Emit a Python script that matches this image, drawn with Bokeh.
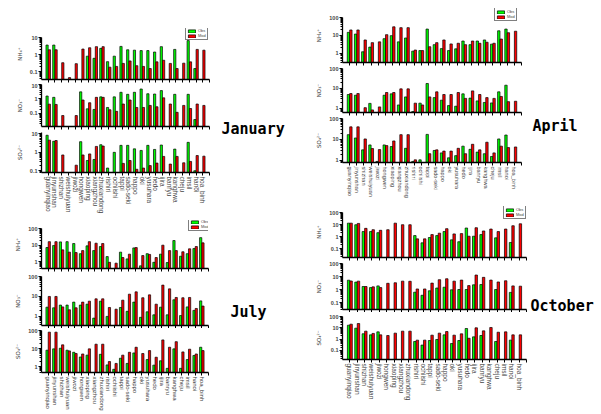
import math
import numpy as np
from bokeh.plotting import figure
from bokeh.models import Range1d, FixedTicker, CustomJSTickFormatter, ColumnDataSource, Legend, LegendItem
from bokeh.layouts import row, column
from bokeh.transform import dodge
from bokeh.embed import file_html
from bokeh.resources import INLINE
from bokeh.core.properties import value

N = None
sites = ["guanyinqiao", "jinyunshan", "shizhan", "weishuiyuan", "jiwozi", "hongwen", "xiaoping",
         "xiangzhou", "zhuxiandong", "rishiri", "ochiishi", "tappi", "sado-seki", "happo", "oki",
         "yusuhara", "hedo", "ijira", "banryu", "kanghwa", "cheju", "imsil", "hanoi", "hoa_binh"]
series_names = ["Obs", "Mod"]
species = ["NH\u2084\u207a", "NO\u2083\u207b", "SO\u2084\u00b2\u207b"]
months = ["January", "April", "July", "October"]

# ---- January ----
jan_nh4_obs = [3.6, 3.6, N, N, N, N, 0.8, 0.6, 2.3, 0.38, 0.8, 3.0, 1.9, 1.8, 1.7, 1.7, 1.4, 2.9, N, 2.0, N, 6.6, 0.15, N]
jan_nh4_mod = [1.9, 1.9, 0.33, 0.044, 0.29, 2.1, 2.5, 2.9, 2.9, 0.18, 0.2, 0.3, 0.42, 0.22, 0.2, 0.15, 0.37, 0.46, 0.3, 0.15, 0.31, 0.37, 2.0, 1.8]
jan_no3_obs = [1.6, 1.3, N, N, N, 3.1, 0.21, 0.19, 1.4, 0.26, 1.4, 2.9, 2.1, 2.9, 4.9, 2.3, 2.2, 3.8, N, 2.1, N, 2.1, 0.038, N]
jan_no3_mod = [0.44, 0.42, 0.072, N, 0.072, 0.85, 0.55, 1.3, 1.3, 0.18, 0.14, 0.45, 0.85, 0.26, 0.26, 0.36, 0.29, 1.2, 0.45, 0.12, 0.36, 0.22, 0.45, 0.36]
jan_so4_obs = [8.5, 4.0, N, N, N, 3.8, 0.36, 0.41, 2.6, 0.14, 1.0, 2.4, 2.4, 1.55, 1.27, 2.4, 1.44, 2.5, N, 1.5, N, 3.5, 0.1, N]
jan_so4_mod = [4.6, 4.4, 0.72, N, 0.2, 0.72, 0.82, 2.1, 2.2, N, N, 0.25, 0.36, 0.12, 0.14, 0.19, 0.26, 0.6, 0.23, 0.6, 0.27, 0.32, 0.67, 0.62]

# ---- April ----
apr_nh4_obs = [14.7, 11.8, 1.2, 2.2, N, 6.5, 9.6, 4.3, 7.1, 1.3, 1.4, 22.5, 3.0, 1.8, 1.4, 1.75, 4.8, 3.0, 4.8, 5.5, 3.2, 18, 22.5, N]
apr_nh4_mod = [20, 20, 5.5, 3.9, 4.3, 10.9, 30, 27, 27, 1.5, 1.4, 2.3, 3.9, 5.5, 3.3, 3.6, 3.0, 4.8, 3.6, 4.1, 3.6, 6.2, 14, 17]
apr_no3_obs = [5.0, 4.6, N, 1.8, N, 4.6, 5.4, 1.5, 3.8, 0.7, 1.85, 17.8, 3.5, 2.6, 1.4, 1.3, 5.4, 3.3, 2.4, 2.0, 1.9, 6.8, 14.6, N]
apr_no3_mod = [5.6, 5.6, 1.1, 0.85, 1.2, 6.3, 6.3, 9.6, 9.6, 1.85, 1.5, 3.8, 6.8, 5.0, 5.0, 6.3, 3.2, 7.6, 5.0, 3.5, 3.2, 4.0, 2.2, 2.3]
apr_so4_obs = [17, 11.8, 3.2, 5.5, 0.9, 5.5, 4.6, N, 3.8, 0.9, 1.07, 17.5, 3.0, 2.3, 1.34, 1.7, 4.8, 3.4, 2.5, 2.1, 1.55, 10.6, 16.3, N]
apr_so4_mod = [40, 40, 10.6, 3.7, 3.3, 5.1, 8.5, 17, 17, 1.07, N, 2.1, 3.2, 2.8, 2.8, 3.8, 2.1, 5.9, 3.2, 7.4, 2.3, 4.8, 4.1, 4.4]

# ---- July ----
jul_nh4_obs = [7.1, 9.3, 15.5, 16, 12.3, 3.0, 8.9, 4.6, 8.1, 2.0, N, 3.7, 1.45, 6.7, 0.55, 3.0, 0.9, 2.8, 0.87, 18.7, 2.1, 3.0, 6.1, 28]
jul_nh4_mod = [16, 16, 5.1, 3.7, 3.5, 4.6, 16, 12.9, 12.3, 0.9, 0.8, 1.75, 2.8, 7.0, 2.3, 2.7, 1.75, 9.8, 4.6, 4.6, 3.9, 5.9, 8.1, 13.5]
jul_no3_obs = [2.9, 2.7, 3.7, 3.7, 5.2, 3.7, 4.1, 0.82, 5.8, 1.0, N, 2.8, 1.8, 5.2, 0.9, 1.7, 1.2, 2.9, 1.2, 6.8, 1.1, 3.0, 2.0, 6.0]
jul_no3_mod = [10, 10, 3.0, 2.15, 2.7, 5.2, 5.8, 7.6, 7.6, 2.8, 2.3, 6.5, 13, 17, 8.6, 12, 4.1, 37, 24, 8.9, 8.6, 8.9, 2.5, 3.3]
jul_so4_obs = [8.1, 9.6, 10.4, 8.1, 6.2, 3.4, 4.3, N, 4.8, 1.24, 0.71, 2.9, 1.5, 5.7, 0.55, 2.45, 1.2, 2.1, 0.8, 9.6, 0.8, 2.45, 4.1, 11.8]
jul_so4_mod = [81, 81, 16, 7.4, 5.3, 5.0, 9.6, 17.4, 17.4, 1.9, 1.5, 4.3, 6.2, 11.8, 5.3, 7.7, 3.3, 30, 11.8, 24, 6.5, 9.2, 5.0, 7.7]

# ---- October ----
oct_nh4_obs = [13, 9.6, 2.6, 2.6, 2.1, N, N, N, N, 1.2, 0.3, 0.83, 1.2, 2.6, 0.53, 0.37, 5.1, 1.06, 1.45, N, 0.78, N, 0.32, N]
oct_nh4_mod = [13, 12.3, 4.8, 3.7, 3.3, 3.7, 13, 9.6, 9.6, 0.64, 0.64, 1.45, 1.9, 4.5, 1.65, 1.75, 1.06, 5.4, 2.9, 4.2, 2.6, 4.2, 7.9, 11.5]
oct_no3_obs = [5.2, 3.7, 1.7, 1.4, 1.9, N, N, N, N, 0.62, 0.36, 0.8, 1.3, 1.5, 0.95, 1.0, 1.0, 2.3, 2.4, N, 1.0, N, 0.6, N]
oct_no3_mod = [4.5, 4.4, 1.7, 1.6, 1.4, 3.0, 3.3, 4.4, 4.3, 1.1, 1.1, 3.1, 5.7, 6.7, 4.4, 5.3, 2.0, 13, 8.6, 5.3, 3.8, 4.7, 1.9, 1.8]
oct_so4_obs = [17, 9.3, 3.0, 2.4, 4.4, N, N, N, N, 0.62, 0.3, 0.76, 0.93, 2.4, 0.41, 0.76, 8.7, 1.6, 2.1, N, 0.62, N, 0.82, N]
oct_so4_mod = [21, 24, 5.1, 3.2, 2.4, 2.1, 3.4, 5.1, 5.1, 0.82, 0.82, 2.25, 3.4, 4.7, 2.25, 2.95, 1.2, 10, 5.4, 10.7, 4.1, 4.4, 2.4, 2.4]

GREEN = "#00ff00"
RED = "#ff0000"
FONT = "Liberation Sans"

MAJOR = [0.001, 0.01, 0.1, 1, 10, 100]


def arr(v):
    return np.array([np.nan if a is None else a for a in v], dtype=float)


def sub(obs, mod, ylo, yhi, fw, fh, bl, bt, bb, br, ylabel, bottom=False, xfont="6px",
        legend_loc=None, ext=0):
    # ext: extra pixels of plot area above the axis top (room for the legend box)
    px_per_dec = fh / math.log10(yhi / ylo)
    ytop = yhi * 10 ** (ext / px_per_dec)
    p = figure(output_backend="svg", toolbar_location=None, y_axis_type="log",
               x_range=Range1d(-1, 24), y_range=Range1d(ylo, ytop),
               frame_width=fw, frame_height=fh + ext,
               min_border_left=bl, min_border_top=bt, min_border_bottom=bb, min_border_right=br,
               background_fill_color="white", border_fill_color="white")
    p.outline_line_color = None
    p.grid.visible = False
    src = ColumnDataSource(dict(x=list(range(len(sites))), obs=arr(obs), mod=arr(mod)))
    r1 = p.vbar(x=dodge("x", -0.17), top="obs", bottom=ylo, width=0.33, source=src,
                fill_color=GREEN, line_color="black", line_width=0.7)
    r2 = p.vbar(x=dodge("x", 0.17), top="mod", bottom=ylo, width=0.33, source=src,
                fill_color=RED, line_color="black", line_width=0.7)

    minor = [k * 10.0 ** d for d in range(-3, 3) for k in range(2, 10) if k * 10.0 ** d <= yhi]
    ya = p.yaxis[0]
    ya.bounds = (ylo, yhi)
    ya.ticker = FixedTicker(ticks=MAJOR, minor_ticks=minor)
    ya.formatter = CustomJSTickFormatter(code="return String(tick);")
    ya.axis_line_width = 1.3
    ya.major_tick_line_width = 1.1
    ya.major_tick_out = 3
    ya.major_tick_in = 0
    ya.minor_tick_out = 2
    ya.minor_tick_in = 0
    ya.major_label_text_font = FONT
    ya.major_label_text_font_style = "bold"
    ya.major_label_text_font_size = "5.5px"
    ya.major_label_standoff = 1
    ya.axis_label = ylabel
    ya.axis_label_text_font = "DejaVu Sans"
    ya.axis_label_text_font_style = "normal"
    ya.axis_label_text_font_size = "5.5px"
    ya.axis_label_standoff = 4

    xa = p.xaxis[0]
    xa.ticker = FixedTicker(ticks=list(range(0, 25)))
    xa.axis_line_width = 1.3
    xa.major_tick_out = 3
    xa.major_tick_in = 0
    xa.major_tick_line_width = 1
    xa.minor_tick_out = 0
    xa.major_label_standoff = 1
    if bottom:
        xa.formatter = CustomJSTickFormatter(args=dict(names=sites),
            code="const i = Math.round(tick); return (i >= 0 && i < names.length) ? names[i] : '';")
        xa.major_label_orientation = "vertical"
        xa.major_label_text_font = FONT
        xa.major_label_text_font_size = xfont
    else:
        xa.formatter = CustomJSTickFormatter(code="return '';")
        xa.major_label_text_font_size = "0px"
        xa.major_label_standoff = 0

    if legend_loc is not None:
        leg = Legend(items=[LegendItem(label=series_names[0], renderers=[r1]),
                            LegendItem(label=series_names[1], renderers=[r2])],
                     location=legend_loc, orientation="vertical",
                     label_text_font=FONT, label_text_font_size="4px",
                     glyph_width=9, glyph_height=4, label_height=5, label_width=7,
                     padding=1, spacing=0, margin=0, label_standoff=2,
                     border_line_color="black", border_line_width=1,
                     background_fill_color="white", background_fill_alpha=1.0)
        p.add_layout(leg)
    return p


# left column: January & July
jan = [
    sub(jan_nh4_obs, jan_nh4_mod, 0.034, 10, 168, 42, 40, 28, 4, 7, species[0], legend_loc=(144, 39), ext=9),
    sub(jan_no3_obs, jan_no3_mod, 0.0126, 10, 168, 42, 40, 1, 4, 7, species[1]),
    sub(jan_so4_obs, jan_so4_mod, 0.08, 12, 168, 40, 40, 2, 40, 7, species[2], bottom=True, xfont="6.5px"),
]
jul = [
    sub(jul_nh4_obs, jul_nh4_mod, 0.38, 100, 167, 40, 41, 4, 4, 7, species[0], legend_loc=(147, 37), ext=8),
    sub(jul_no3_obs, jul_no3_mod, 0.35, 100, 167, 49, 41, 4, 3, 7, species[1]),
    sub(jul_so4_obs, jul_so4_mod, 0.47, 100, 167, 42, 41, 2, 42, 7, species[2], bottom=True, xfont="6px"),
]
# right column: April & October
apr = [
    sub(apr_nh4_obs, apr_nh4_mod, 0.3, 100, 179, 45, 42, 8, 4, 7, species[0], legend_loc=(152, 41), ext=9),
    sub(apr_no3_obs, apr_no3_mod, 0.63, 100, 179, 44, 42, 2, 4, 7, species[1]),
    sub(apr_so4_obs, apr_so4_mod, 0.8, 100, 179, 44, 42, 2, 33, 7, species[2], bottom=True, xfont="5.5px"),
]
octo = [
    sub(oct_nh4_obs, oct_nh4_mod, 0.018, 100, 184, 45, 42, 6, 4, 2, species[0], legend_loc=(161, 38), ext=6),
    sub(oct_no3_obs, oct_no3_mod, 0.029, 100, 184, 46, 42, 2, 3, 2, species[1]),
    sub(oct_so4_obs, oct_so4_mod, 0.016, 100, 184, 43, 42, 4, 56, 2, species[2], bottom=True, xfont="6.5px"),
]


def label_fig(w, h, xs, ys, texts):
    q = figure(output_backend="svg", toolbar_location=None, width=w, height=h,
               x_range=Range1d(0, w), y_range=Range1d(h, 0), min_border=0,
               x_axis_location=None, y_axis_location=None,
               background_fill_color="white", border_fill_color="white")
    q.outline_line_color = None
    q.grid.visible = False
    q.text(x=xs, y=ys, text=texts, text_font=value("DejaVu Sans Mono"), text_font_style="bold",
           text_font_size="15px", text_baseline="middle", text_align="left", text_color="black")
    return q


labL = label_fig(85, 410, [6, 15], [128, 311], [months[0], months[2]])
labR = label_fig(73, 410, [4, 2], [125, 305], [months[1], months[3]])

left = column(*jan, *jul)
right = column(*apr, *octo)
page = row(left, labL, right, labR)

open("out.html", "w").write(file_html(page, INLINE))
